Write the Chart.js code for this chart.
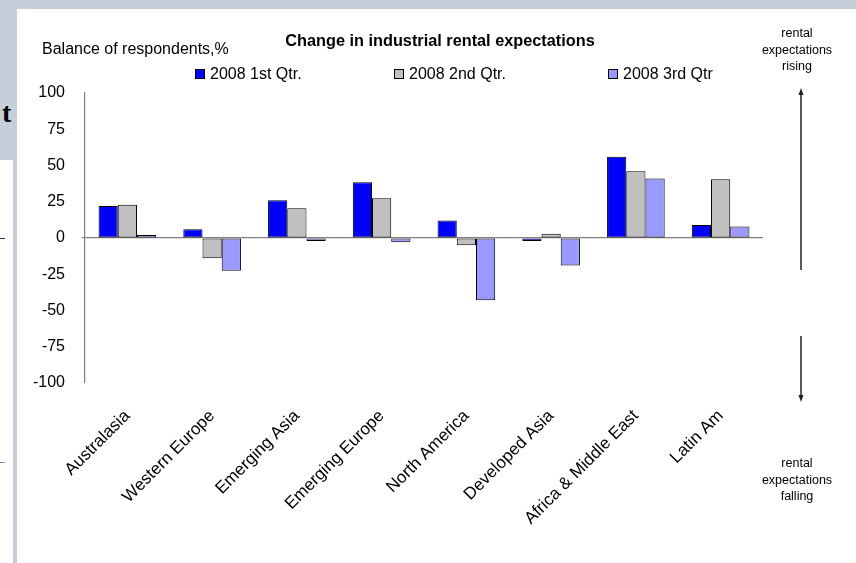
<!DOCTYPE html>
<html>
<head>
<meta charset="utf-8">
<script src="https://cdn.jsdelivr.net/npm/chart.js@4.4.1/dist/chart.umd.min.js"></script>
<style>
body{margin:0;background:#c5cfd9;font-family:"Liberation Sans",Arial,sans-serif;}
#wrap{position:relative;width:856px;height:563px;overflow:hidden;}
#panel{position:absolute;left:17px;top:9px;width:839px;height:554px;background:#fff;}
#strip{position:absolute;left:0;top:160px;width:13px;height:403px;background:#fff;}
.dash{position:absolute;left:0;width:5px;height:1px;}
#bigT{position:absolute;left:2px;top:99px;font:bold 28px "Liberation Serif",serif;line-height:28px;}
canvas{position:absolute;left:0;top:0;}
.txt{position:absolute;white-space:nowrap;color:#000;line-height:1;}
#title{left:440px;top:32px;transform:translateX(-50%);font-weight:bold;font-size:16.3px;}
#ylab{left:42px;top:41px;font-size:16px;}
.note{position:absolute;width:100px;left:747px;text-align:center;font-size:12.5px;line-height:16.6px;}
.leg{position:absolute;top:66px;font-size:16px;line-height:16px;white-space:nowrap;}
.leg span{display:inline-block;width:8px;height:8px;border:1px solid #000;margin-right:5px;vertical-align:0px;}
</style>
</head>
<body>
<div id="wrap">
  <div id="panel"></div>
  <div id="strip"></div>
  <div class="dash" style="top:238px;background:#333"></div>
  <div class="dash" style="top:462px;background:#888"></div>
  <div id="bigT">t</div>
  <canvas id="chart" width="856" height="563"></canvas>
  <div class="txt" id="title">Change in industrial rental expectations</div>
  <div class="txt" id="ylab">Balance of respondents,%</div>
  <div class="note" style="top:25px">rental<br>expectations<br>rising</div>
  <div class="note" style="top:455px">rental<br>expectations<br>falling</div>
  <div id="legend"></div>
</div>
<script>
// ===== DATA =====
const categories = ["Australasia","Western Europe","Emerging Asia","Emerging Europe","North America","Developed Asia","Africa & Middle East","Latin Am"];
const seriesNames = ["2008 1st Qtr.","2008 2nd Qtr.","2008 3rd Qtr"];
const q1Values = [22, 6, 26, 38.5, 12, -2, 56, 9];
const q2Values = [23, -14, 20.5, 27.5, -5, 3, 46, 40.5];
const q3Values = [2, -22.5, -2, -3, -43, -19, 41, 8];
const yTicks = [-100, -75, -50, -25, 0, 25, 50, 75, 100];

const colors = ["#0000ff", "#c0c0c0", "#9999ff"];
const legendX = [195, 394, 608];

const font = {family:"'Liberation Sans', Arial, sans-serif", size:16};

const arrows = {
    id:"arrows",
    afterDraw(chart){
        const c = chart.ctx;
        c.save();
        c.strokeStyle = "#222";
        c.fillStyle = "#222";
        c.lineWidth = 1.5;
        // rising
        c.beginPath(); c.moveTo(801, 93); c.lineTo(801, 270); c.stroke();
        c.beginPath(); c.moveTo(801, 88); c.lineTo(798.5, 95); c.lineTo(803.5, 95); c.closePath(); c.fill();
        // falling
        c.beginPath(); c.moveTo(801, 336); c.lineTo(801, 397); c.stroke();
        c.beginPath(); c.moveTo(801, 402); c.lineTo(798.5, 395); c.lineTo(803.5, 395); c.closePath(); c.fill();
        c.restore();
    }
};

const data = {
    labels: categories,
    datasets: [q1Values, q2Values, q3Values].map((vals, i) => ({
        label: seriesNames[i],
        data: vals,
        backgroundColor: colors[i],
        borderColor: "#000",
        borderWidth: 1,
        borderSkipped: false,
        categoryPercentage: 0.68,
        barPercentage: 1
    }))
};

const chart = new Chart(document.getElementById("chart"), {
    type: "bar",
    data: data,
    plugins: [arrows],
    options: {
        responsive: false,
        animation: false,
        events: [],
        layout: {padding: {left: 17, right: 93, top: 93, bottom: 0}},
        plugins: {legend: {display: false}, title: {display: false}, tooltip: {enabled: false}},
        scales: {
            x: {
                grid: {display: false, drawTicks: false},
                border: {display: false},
                ticks: {font: {family: font.family, size: 17}, color: "#000", minRotation: 45, maxRotation: 45, autoSkip: false, padding: 23},
                afterFit: s => { s.height = 180; }
            },
            y: {
                min: -100, max: 100,
                afterBuildTicks: s => { s.ticks = yTicks.map(v => ({value: v})); },
                grid: {
                    color: ctx => ctx.tick && ctx.tick.value === 0 ? "#808080" : "transparent",
                    tickColor: ctx => ctx.tick && ctx.tick.value === 0 ? "#808080" : "transparent",
                    tickLength: 3,
                    lineWidth: 1.2
                },
                border: {display: true, color: "#808080", width: 1.2},
                ticks: {font: font, color: "#000", padding: 17},
                afterFit: s => { s.width = 68; }
            }
        }
    }
});

// html legend from the datasets
const legend = document.getElementById("legend");
chart.data.datasets.forEach((ds, i) => {
    const div = document.createElement("div");
    div.className = "leg";
    div.style.left = legendX[i] + "px";
    div.innerHTML = `<span style="background:${ds.backgroundColor}"></span>${ds.label}`;
    legend.appendChild(div);
});
</script>
</body>
</html>
